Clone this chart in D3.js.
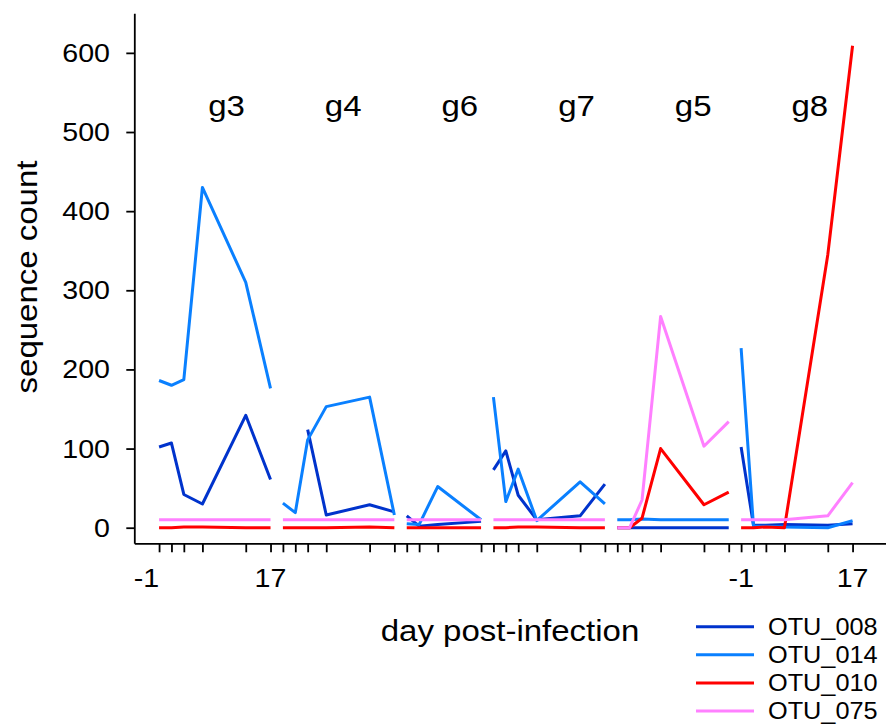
<!DOCTYPE html>
<html>
<head>
  <script src="https://d3js.org/d3.v7.min.js"></script>
  <style>
    body { margin: 0; background: #fff; }
    svg text { font-family: "Liberation Sans", Arial, sans-serif; fill: #000; }
    .axis path, .axis line { fill: none; stroke: #000; stroke-width: 1.8; }
    .series { fill: none; stroke-width: 3; stroke-linejoin: round; stroke-linecap: butt; }
  </style>
</head>
<body>
  <svg class="chart"></svg>
  <script>
    // groups in plotting order and the sampling days of each
    var groupNames = ['g3', 'g4', 'g6', 'g7', 'g5', 'g8'];
    var groupDays = [
      [-1, 1, 3, 6, 13, 17],
      [-1, 1, 3, 6, 13, 17],
      [-1, 1, 4, 11],
      [-1, 1, 3, 6, 13, 17],
      [-1, 1, 3, 6, 13, 17],
      [-1, 1, 3, 6, 13, 17]
    ];

    // sequence counts, one row per group (null = no sample)
    var otu008 = [
      [102, 107, 42, 30, 142, 61],
      [null, null, 124, 16, 29, 20],
      [15, 2, 4, 8],
      [73, 97, 41, 10, 15, 55],
      [0, 0, 0, 0, 0, 0],
      [102, 3, 3, 4, 3, 5]
    ];
    var otu014 = [
      [186, 180, 187, 430, 310, 176],
      [31, 19, 111, 153, 165, 16],
      [5, 4, 52, 10],
      [165, 33, 74, 9, 58, 30],
      [10, 10, 11, 10, 10, 10],
      [227, 2, 2, 1, 0, 9]
    ];
    var otu010 = [
      [0, 0, 1, 1, 0, 0],
      [0, 0, 0, 0, 1, 0],
      [0, 0, 0, 0],
      [0, 0, 1, 1, 0, 0],
      [0, 0, 12, 100, 29, 45],
      [0, 0, 1, 0, 345, 609]
    ];
    var otu075 = [
      [10, 10, 10, 10, 10, 10],
      [10, 10, 10, 10, 10, 10],
      [10, 10, 10, 10],
      [10, 10, 10, 10, 10, 10],
      [0, 0, 35, 267, 103, 134],
      [10, 10, 10, 10, 15, 57]
    ];

    var seriesNames = ['OTU_008', 'OTU_014', 'OTU_010', 'OTU_075'];
    var seriesValues = [otu008, otu014, otu010, otu075];
    var seriesColors = ['#0033cc', '#0a80ff', '#ff0000', '#ff80ff'];
    var yTicks = [0, 100, 200, 300, 400, 500, 600];

    var W = 886, H = 727;
    var stretch = 1.1; // the original font runs a bit wider than Arial

    // each group sits after the previous one with a 2-day gap
    var offsets = [];
    var acc = 0;
    groupDays.forEach(function (days, i) {
      offsets.push(acc);
      acc += days[days.length - 1] + 3;
    });

    var xScale = d3.scaleLinear().domain([-5, 116.4]).range([134.3, 886]);
    var yScale = d3.scaleLinear().domain([-19.7, 650]).range([543.3, 13.3]);

    var svg = d3.select('.chart').attr('width', W).attr('height', H);

    function label(x, y, str, size, anchor, rot) {
      return svg.append('text')
        .attr('transform', 'translate(' + x + ',' + y + ')' + (rot ? ' rotate(' + rot + ')' : '') + ' scale(' + stretch + ',1)')
        .attr('text-anchor', anchor || 'middle')
        .style('font-size', size + 'px')
        .text(str);
    }

    // axes
    var tickXs = [];
    groupDays.forEach(function (days, i) {
      days.forEach(function (d) { tickXs.push(offsets[i] + d); });
    });

    svg.append('g')
      .attr('class', 'x axis')
      .attr('transform', 'translate(0,' + yScale.range()[0] + ')')
      .call(d3.axisBottom(xScale).tickValues(tickXs).tickSize(9).tickSizeOuter(0).tickFormat(''));

    svg.append('g')
      .attr('class', 'y axis')
      .attr('transform', 'translate(' + xScale.range()[0] + ',0)')
      .call(d3.axisLeft(yScale).tickValues(yTicks).tickSize(8).tickSizeOuter(0).tickFormat(''));

    yTicks.forEach(function (t) {
      label(110, yScale(t) + 9, t, 26, 'end');
    });

    // only the first and last group get day labels
    var first = groupDays[0], lastI = groupDays.length - 1, last = groupDays[lastI];
    label(xScale(offsets[0] + first[0]), 587, first[0], 26, 'end');
    label(xScale(offsets[0] + first[first.length - 1]), 587, first[first.length - 1], 26);
    label(xScale(offsets[lastI] + last[0]), 587, last[0], 26);
    label(xScale(offsets[lastI] + last[last.length - 1]), 587, last[last.length - 1], 26);

    // lines, one path per series per group
    var line = d3.line()
      .defined(function (d) { return d.v != null; })
      .x(function (d) { return xScale(d.x); })
      .y(function (d) { return yScale(d.v); });

    seriesValues.forEach(function (rows, s) {
      rows.forEach(function (vals, g) {
        var pts = vals.map(function (v, k) { return { x: offsets[g] + groupDays[g][k], v: v }; });
        svg.append('path')
          .datum(pts)
          .attr('class', 'series')
          .attr('stroke', seriesColors[s])
          .attr('d', line);
      });
    });

    // group labels, evenly spaced across the top
    groupNames.forEach(function (name, i) {
      label(xScale(9.9 + i * 18.84), 116, name, 30);
    });

    // axis titles
    label(510, 641, 'day post-infection', 30);
    label(37, 277, 'sequence count', 30, 'middle', -90);

    // legend
    seriesNames.forEach(function (name, i) {
      var y = 626.7 + i * 28.1;
      svg.append('line')
        .attr('x1', 696).attr('x2', 754)
        .attr('y1', y).attr('y2', y)
        .attr('stroke', seriesColors[i])
        .attr('stroke-width', 3);
      label(768, y + 8.2, name, 23, 'start');
    });
  </script>
</body>
</html>
